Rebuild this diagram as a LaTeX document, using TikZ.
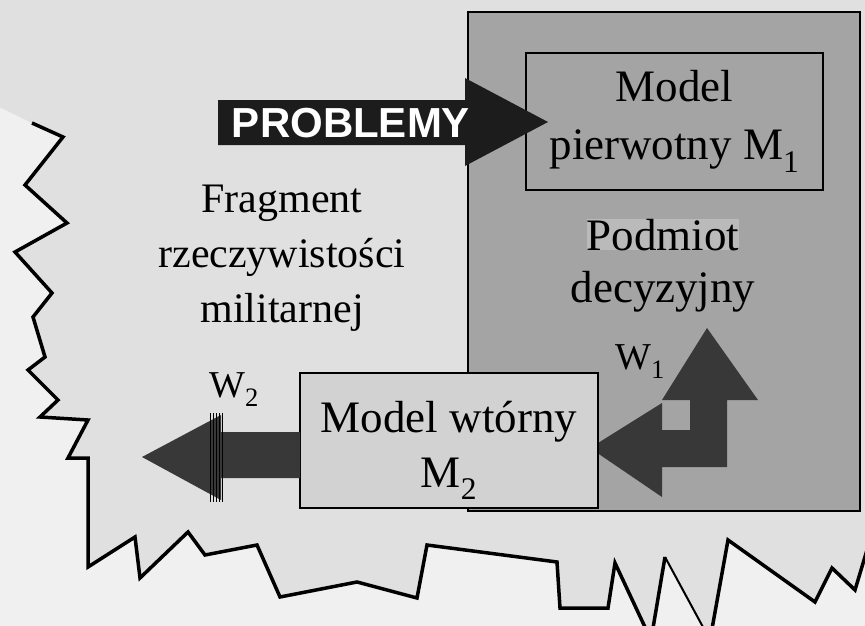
\documentclass[tikz,border=0pt]{standalone}
\usepackage{fontspec}
\setmainfont{Liberation Serif}
\newfontfamily\arrowfont{Liberation Sans}
\definecolor{bgc}{HTML}{F0F0F0}
\definecolor{innerc}{HTML}{E0E0E0}
\definecolor{boxc}{HTML}{A4A4A4}
\definecolor{mtwoc}{HTML}{D2D2D2}
\definecolor{arrc}{HTML}{383838}
\definecolor{probc}{HTML}{1C1C1C}
\definecolor{hlc}{HTML}{BABABA}
\begin{document}
\begin{tikzpicture}[x=1pt,y=-1pt,
  outline/.style={line width=3.5pt, line join=miter, miter limit=4},
  boxstyle/.style={draw=black, line width=2.6pt, outer sep=0pt, inner sep=0pt, anchor=north west},
  bigtext/.style={font=\fontsize{45}{58}\selectfont, align=center},
  wlabel/.style={font=\fontsize{38}{38}\selectfont},
  blockarrow/.style={fill=arrc}
]
\useasboundingbox (0,0) rectangle (865,626);
\fill[bgc] (0,0) rectangle (865,626);
\begin{scope}
\clip (0,0) rectangle (865,626);
% interior of the fragment of reality
\fill[innerc] (32,123) -- (63,137) -- (25,185) -- (67,223) -- (15,252) -- (52,293) -- (33,317) -- (45,357) -- (28,370) -- (58,400) -- (40,417) -- (88,420) -- (68,458) -- (88,458) -- (88,567) -- (135,537) -- (140,578) -- (188,532) -- (205,555) -- (257,545) -- (280,597) -- (357,582) -- (417,598) -- (427,545) -- (557,562) -- (560,608) -- (608,608) -- (615,563) -- (651,640) -- (665,557) -- (710,640) -- (728,540) -- (815,602) -- (832,568) -- (855,590) -- (870,540) -- (870,-5) -- (-5,-5) -- (-5,105) -- cycle;
\draw[outline] (32,123) -- (63,137) -- (25,185) -- (67,223) -- (15,252) -- (52,293) -- (33,317) -- (45,357) -- (28,370) -- (58,400) -- (40,417) -- (88,420) -- (68,458) -- (88,458) -- (88,567) -- (135,537) -- (140,578) -- (188,532) -- (205,555) -- (257,545) -- (280,597) -- (357,582) -- (417,598) -- (427,545) -- (557,562) -- (560,608) -- (608,608) -- (615,563) -- (651,640) -- (665,557);
\draw[outline, line width=2pt] (665,557) -- (710,640);
\draw[outline] (710,640) -- (728,540) -- (815,602) -- (832,568) -- (855,590) -- (870,540);
\end{scope}

% decision subject (big box)
\node[boxstyle, fill=boxc, minimum width=392pt, minimum height=499pt] (podmiot) at (468,12) {};
% primary model
\node[boxstyle, fill=boxc, minimum width=297pt, minimum height=137pt, bigtext] (m1) at (526,53) {Model\\pierwotny M\textsubscript{1}};
% PROBLEMY arrow
\fill[probc] (218,100) -- (465,100) -- (465,78) -- (548,122) -- (465,166) -- (465,145) -- (218,145) -- cycle;
\node[text=white, font=\arrowfont\bfseries\fontsize{42}{42}\selectfont] (problemy) at (351,123) {PROBLEMY};

% labels in the big box
\node[fill=hlc, inner sep=0pt, anchor=base, bigtext] (pod1) at (663,250) {Podmiot};
\node[anchor=base, bigtext] (pod2) at (663,302) {decyzyjny};

% W1 L-shaped arrow
\fill[blockarrow] (590,448) -- (662,403) -- (662,430) -- (690,430) -- (690,400) -- (662,400) -- (707,328) -- (758,400) -- (727,400) -- (727,467) -- (662,467) -- (662,497) -- cycle;
\node[wlabel] (w1) at (640,362) {W\textsubscript{1}};

% secondary model
\node[boxstyle, fill=mtwoc, minimum width=298pt, minimum height=135pt] (m2) at (300,373) {};
\node[bigtext, font=\fontsize{45}{55}\selectfont] (m2text) at (449,450) {Model wtórny\\M\textsubscript{2}};

% W2 arrow
\fill[blockarrow] (m2.west |- 0,432) -- (221,432) -- (221,415) -- (142,457) -- (221,500) -- (221,478) -- (m2.west |- 0,478) -- cycle;
\foreach \xx in {210,213,216,219,222}
  \draw[black, line width=0.9pt] (\xx,413) -- (\xx,502);
\node[wlabel] (w2) at (234,390) {W\textsubscript{2}};

% fragment of reality text
\node[bigtext, font=\fontsize{42}{55}\selectfont] (fragment) at (282,258) {Fragment\\rzeczywistości\\militarnej};
\end{tikzpicture}
\end{document}
